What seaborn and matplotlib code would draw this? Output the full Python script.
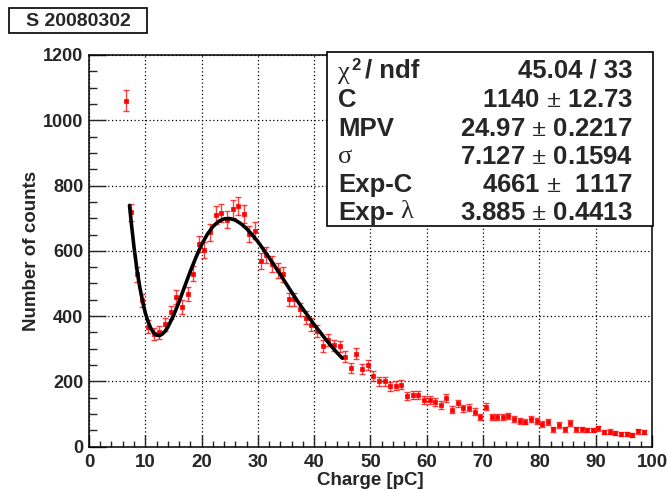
import numpy as np
import pandas as pd
import seaborn as sns
import matplotlib.pyplot as plt
from matplotlib.ticker import MultipleLocator

# histogram data (bin centres, counts)
charge = np.arange(6.5, 99.0, 1.0)
counts = [1060, 718, 528, 448, 368, 345, 350, 375, 412, 460,
          428, 467, 530, 622, 604, 657, 710, 716, 695, 728,
          737, 713, 652, 662, 569, 588, 559, 540, 528, 451,
          451, 421, 395, 374, 354, 308, 328, 310, 307, 276,
          241, 285, 238, 250, 217, 200, 200, 185, 187, 190,
          154, 159, 159, 142, 144, 136, 128, 149, 113, 133,
          117, 120, 107, 91, 123, 92, 92, 92, 94, 84,
          79, 77, 84, 79, 70, 75, 53, 66, 53, 72,
          53, 53, 51, 51, 56, 44, 46, 43, 39, 39,
          37, 47, 44]

# fit curve
fit_x = [7.2, 7.5, 8, 8.5, 9, 9.5, 10, 10.5, 11, 11.5, 12, 12.5, 13, 13.5, 14,
         15, 16, 17, 18, 19, 20, 21, 22, 23, 24, 25, 26, 27, 28, 29, 30,
         31, 32, 33, 34, 35, 36, 37, 38, 39, 40, 41, 42, 43, 44, 45]
fit_y = [739, 688, 611, 545, 491, 447, 410, 383, 362, 349, 342, 340, 345, 353, 366,
         401, 444, 491, 537, 580, 619, 650, 674, 690, 698, 699, 694, 683, 668, 649, 628,
         604, 579, 553, 527, 500, 473, 447, 422, 398, 374, 352, 330, 309, 289, 271]

# stats box
stat_values = ['45.04 / 33', '1140 $\\pm$ 12.73', '24.97 $\\pm$ 0.2217',
               '7.127 $\\pm$ 0.1594', '4661 $\\pm$  1117', '3.885 $\\pm$ 0.4413']

df = pd.DataFrame({'charge': charge, 'counts': counts})
df['err'] = np.sqrt(df['counts'])
fit_df = pd.DataFrame({'x': fit_x, 'y': fit_y})

sns.set_theme(style='white')
plt.rcParams['font.family'] = ['Liberation Sans', 'DejaVu Sans']
plt.rcParams['font.weight'] = 'bold'
plt.rcParams['mathtext.fontset'] = 'custom'
plt.rcParams['mathtext.rm'] = 'Liberation Serif'
plt.rcParams['mathtext.it'] = 'Liberation Serif'
plt.rcParams['mathtext.bf'] = 'Liberation Sans:bold'

fig = plt.figure(figsize=(6.68, 4.90), dpi=100)
ax = fig.add_axes([0.1332, 0.0884, 0.8428, 0.7994])

ax.errorbar(df['charge'], df['counts'], yerr=df['err'], fmt='none',
            ecolor='red', elinewidth=1.0, capsize=2.5, capthick=1.0, alpha=0.75, zorder=2)
sns.scatterplot(data=df, x='charge', y='counts', marker='s', s=9, color='red',
                edgecolor='red', linewidth=0.5, ax=ax, zorder=3)
sns.lineplot(data=fit_df, x='x', y='y', color='black', linewidth=2.6, ax=ax,
             sort=False, zorder=4)

ax.set_xlim(0, 100)
ax.set_ylim(0, 1200)
ax.xaxis.set_major_locator(MultipleLocator(10))
ax.xaxis.set_minor_locator(MultipleLocator(2))
ax.yaxis.set_major_locator(MultipleLocator(200))
ax.yaxis.set_minor_locator(MultipleLocator(50))
ax.tick_params(axis='x', which='major', direction='in', length=8.5, width=1, labelsize=13.5, pad=5,
               bottom=True, top=False)
ax.tick_params(axis='x', which='minor', direction='in', length=4.2, width=1, bottom=True, top=False)
ax.tick_params(axis='y', which='major', direction='in', length=12, width=1, labelsize=13, pad=4,
               left=True, right=False)
ax.tick_params(axis='y', which='minor', direction='in', length=6, width=1, left=True, right=False)
for lab in ax.get_xticklabels() + ax.get_yticklabels():
    lab.set_fontweight('bold')

ax.grid(True, which='major', linestyle=(0, (1, 2)), color='black', linewidth=0.9)
for sp in ax.spines.values():
    sp.set_color('black')
    sp.set_linewidth(1.1)

ax.set_xlabel('Charge [pC]', fontsize=13.5, fontweight='bold', labelpad=1)
ax.set_ylabel('Number of counts', fontsize=13.5, fontweight='bold', labelpad=2)

W, H = 668, 490


def ftext(px, py, s, **kw):
    fig.text(px / W, 1 - py / H, s, va='center', zorder=11, **kw)


# stats box
box_l, box_t, box_r, box_b = 327, 52, 653, 226
fig.patches.append(plt.Rectangle((box_l / W, 1 - box_b / H), (box_r - box_l) / W, (box_b - box_t) / H,
                                 transform=fig.transFigure, facecolor='white', edgecolor='black',
                                 linewidth=1.2, zorder=10))
row_y = [71, 100, 129, 157, 185, 213]
bold = dict(fontsize=18.5, fontweight='bold')
greek = dict(fontsize=19, fontweight='normal', family='Liberation Serif')
ftext(338, row_y[0] + 2, '\u03c7', **greek)
ftext(351, row_y[0] - 6, '2', fontsize=12, fontweight='bold')
ftext(365, row_y[0], '/ ndf', **bold)
ftext(338, row_y[1], 'C', **bold)
ftext(338, row_y[2], 'MPV', **bold)
ftext(338, row_y[3], '\u03c3', **greek)
ftext(338, row_y[4], 'Exp-C', **bold)
ftext(338, row_y[5], 'Exp-', **bold)
ftext(400, row_y[5] - 1, '\u03bb', **greek)
for val, yy in zip(stat_values, row_y):
    ftext(633, yy, val, ha='right', **bold)

# title box
fig.patches.append(plt.Rectangle((9 / W, 1 - 33 / H), 138 / W, 25 / H, transform=fig.transFigure,
                                 facecolor='white', edgecolor='black', linewidth=1.2, zorder=10))
ftext(78, 21, 'S 20080302', fontsize=14, fontweight='bold', ha='center')

fig.savefig('out.png', dpi=100)
